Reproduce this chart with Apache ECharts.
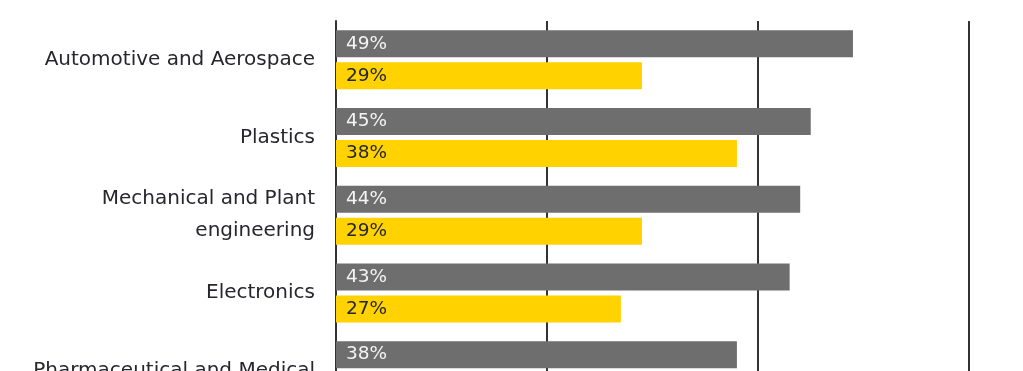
<!DOCTYPE html>
<html>
<head>
<meta charset="utf-8">
<script src="https://cdn.jsdelivr.net/npm/echarts@6/dist/echarts.min.js"></script>
<style>
html,body{margin:0;padding:0;overflow:hidden;background:#fff;}
#c{width:1023px;height:420px;}
</style>
</head>
<body>
<div id="c"></div>
<script>
var categories = [
  'Automotive and Aerospace',
  'Plastics',
  'Mechanical and Plant\nengineering',
  'Electronics',
  'Pharmaceutical and Medical'
];
var seriesGray = [49, 45, 44, 43, 38];
var seriesYellow = [29, 38, 29, 27, null];
var xTicks = [0, 20, 40, 60];

var chart = echarts.init(document.getElementById('c'), null, {renderer: 'canvas'});
var labelFont = 'DejaVu Sans';
chart.setOption({
  animation: false,
  grid: {left: 336, right: 54, top: 21, height: 388.5, containLabel: false},
  xAxis: {
    type: 'value',
    min: xTicks[0],
    max: xTicks[xTicks.length - 1],
    interval: 20,
    axisLine: {show: false},
    axisTick: {show: false},
    axisLabel: {show: false},
    splitLine: {show: true, lineStyle: {color: '#333333', width: 2}}
  },
  yAxis: {
    type: 'category',
    inverse: true,
    data: categories,
    axisLine: {show: true, lineStyle: {color: '#333333', width: 2}},
    axisTick: {show: false},
    axisLabel: {
      margin: 21,
      color: '#26262e',
      fontFamily: labelFont,
      fontSize: 20,
      lineHeight: 32
    }
  },
  series: [
    {
      type: 'bar',
      data: seriesGray,
      barWidth: 27,
      barGap: '18.5%',
      itemStyle: {color: '#6e6e6e'},
      label: {
        show: true,
        position: 'insideLeft',
        distance: 10,
        formatter: '{c}%',
        color: '#f4f4f4',
        fontFamily: labelFont,
        fontSize: 18.5
      }
    },
    {
      type: 'bar',
      data: seriesYellow,
      barWidth: 27,
      barGap: '18.5%',
      itemStyle: {color: '#ffd200'},
      label: {
        show: true,
        position: 'insideLeft',
        distance: 10,
        formatter: '{c}%',
        color: '#26262e',
        fontFamily: labelFont,
        fontSize: 18.5
      }
    }
  ]
});
</script>
</body>
</html>
